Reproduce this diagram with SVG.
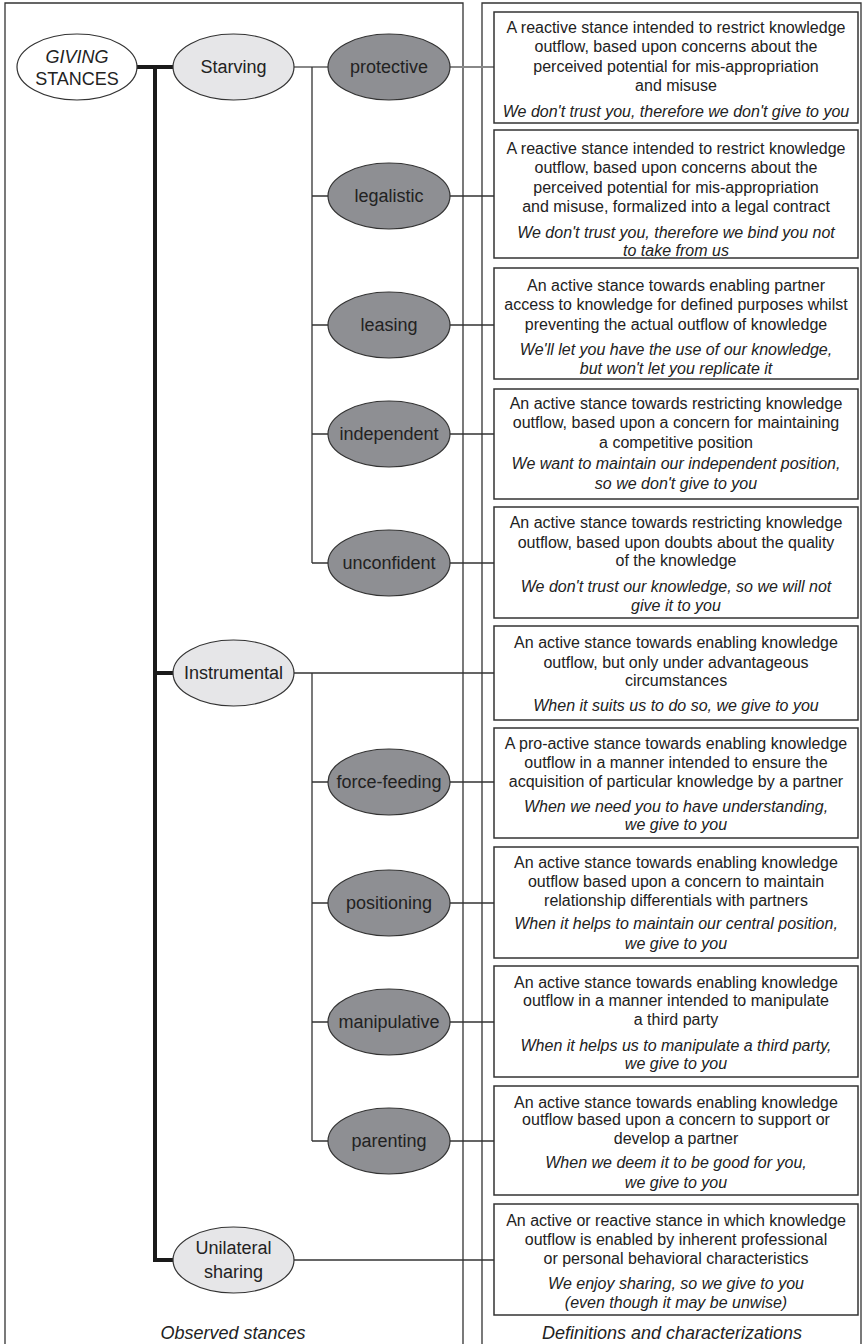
<svg xmlns="http://www.w3.org/2000/svg" width="864" height="1344" viewBox="0 0 864 1344">
<style>
.panel{fill:none;stroke:#333;stroke-width:1.3}
.box{fill:#fff;stroke:#333;stroke-width:1.5}
.root{fill:#fff;stroke:#333;stroke-width:1.2}
.mid{fill:#e6e6e8;stroke:#333;stroke-width:1.2}
.leaf{fill:#8e8f93;stroke:#333;stroke-width:1.2}
.lbl{font-family:"Liberation Sans",Arial,sans-serif;font-size:18px;fill:#222;text-anchor:middle}
.t{font-family:"Liberation Sans",Arial,sans-serif;font-size:16px;fill:#222;text-anchor:middle}
.i{font-style:italic}
.thick{stroke:#1a1a1a;stroke-width:4;fill:none}
.thin{stroke:#333;stroke-width:1.3;fill:none}
.grey{stroke:#888;stroke-width:2;fill:none}
.cap{font-family:"Liberation Sans",Arial,sans-serif;font-size:18px;font-style:italic;fill:#222;text-anchor:middle}
</style>
<rect width="864" height="1344" fill="#fff"/>
<g id="panels">
<path class="panel" d="M5,1350 V3 H463 V1350"/>
<path class="panel" d="M482,1350 V3 H861 V1350"/>
<text class="cap" x="233" y="1339">Observed stances</text>
<text class="cap" x="672" y="1339">Definitions and characterizations</text>
</g>
<g id="connectors">
<path class="thick" d="M137,67 H173 M155,67 V1260 H173 M155,673 H173"/>
<path class="grey" d="M294,67 H328 M450,67 H494"/>
<path class="thin" d="M312,67 V563 M312,196 H328 M312,325 H328 M312,434 H328 M312,563 H328"/>
<path class="thin" d="M450,196 H494 M450,325 H494 M450,434 H494 M450,563 H494"/>
<path class="thin" d="M294,673 H494 M312,673 V1141 M312,782 H328 M312,903 H328 M312,1022 H328 M312,1141 H328"/>
<path class="thin" d="M450,782 H494 M450,903 H494 M450,1022 H494 M450,1141 H494"/>
<path class="thin" d="M294,1260 H494"/>
</g>
<g id="giving"><ellipse class="root" cx="77" cy="67" rx="60" ry="33"/><text class="lbl i" x="77" y="63">GIVING</text><text class="lbl" x="77" y="85">STANCES</text></g>
<g id="starving"><ellipse class="mid" cx="233.5" cy="67" rx="60.5" ry="33"/><text class="lbl" x="233.5" y="73">Starving</text></g>
<g id="instrumental"><ellipse class="mid" cx="233.5" cy="673" rx="60.5" ry="33"/><text class="lbl" x="233.5" y="679">Instrumental</text></g>
<g id="unilateral"><ellipse class="mid" cx="233.5" cy="1260" rx="60.5" ry="33"/><text class="lbl" x="233.5" y="1254">Unilateral</text><text class="lbl" x="233.5" y="1278">sharing</text></g>
<g id="protective"><ellipse class="leaf" cx="389" cy="67" rx="61" ry="33"/><text class="lbl" x="389" y="73">protective</text></g>
<g id="legalistic"><ellipse class="leaf" cx="389" cy="196" rx="61" ry="33"/><text class="lbl" x="389" y="202">legalistic</text></g>
<g id="leasing"><ellipse class="leaf" cx="389" cy="325" rx="61" ry="33"/><text class="lbl" x="389" y="331">leasing</text></g>
<g id="independent"><ellipse class="leaf" cx="389" cy="434" rx="61" ry="33"/><text class="lbl" x="389" y="440">independent</text></g>
<g id="unconfident"><ellipse class="leaf" cx="389" cy="563" rx="61" ry="33"/><text class="lbl" x="389" y="569">unconfident</text></g>
<g id="force-feeding"><ellipse class="leaf" cx="389" cy="782" rx="61" ry="33"/><text class="lbl" x="389" y="788">force-feeding</text></g>
<g id="positioning"><ellipse class="leaf" cx="389" cy="903" rx="61" ry="33"/><text class="lbl" x="389" y="909">positioning</text></g>
<g id="manipulative"><ellipse class="leaf" cx="389" cy="1022" rx="61" ry="33"/><text class="lbl" x="389" y="1028">manipulative</text></g>
<g id="parenting"><ellipse class="leaf" cx="389" cy="1141" rx="61" ry="33"/><text class="lbl" x="389" y="1147">parenting</text></g>
<g id="def-protective"><rect class="box" x="494" y="12" width="364" height="111"/>
<text class="t" x="676" y="32.5">A reactive stance intended to restrict knowledge</text>
<text class="t" x="676" y="52">outflow, based upon concerns about the</text>
<text class="t" x="676" y="71.5">perceived potential for mis-appropriation</text>
<text class="t" x="676" y="91">and misuse</text>
<text class="t i" x="676" y="116.5">We don't trust you, therefore we don't give to you</text></g>
<g id="def-legalistic"><rect class="box" x="494" y="130" width="364" height="128"/>
<text class="t" x="676" y="153.5">A reactive stance intended to restrict knowledge</text>
<text class="t" x="676" y="173">outflow, based upon concerns about the</text>
<text class="t" x="676" y="192.5">perceived potential for mis-appropriation</text>
<text class="t" x="676" y="212">and misuse, formalized into a legal contract</text>
<text class="t i" x="676" y="237.5">We don't trust you, therefore we bind you not</text>
<text class="t i" x="676" y="255.5">to take from us</text></g>
<g id="def-leasing"><rect class="box" x="494" y="268" width="364" height="111"/>
<text class="t" x="676" y="290.5">An active stance towards enabling partner</text>
<text class="t" x="676" y="310">access to knowledge for defined purposes whilst</text>
<text class="t" x="676" y="329.5">preventing the actual outflow of knowledge</text>
<text class="t i" x="676" y="354.5">We'll let you have the use of our knowledge,</text>
<text class="t i" x="676" y="373.5">but won't let you replicate it</text></g>
<g id="def-independent"><rect class="box" x="494" y="389" width="364" height="110"/>
<text class="t" x="676" y="408.5">An active stance towards restricting knowledge</text>
<text class="t" x="676" y="428">outflow, based upon a concern for maintaining</text>
<text class="t" x="676" y="447.5">a competitive position</text>
<text class="t i" x="676" y="468.5">We want to maintain our independent position,</text>
<text class="t i" x="676" y="488.5">so we don't give to you</text></g>
<g id="def-unconfident"><rect class="box" x="494" y="507" width="364" height="111"/>
<text class="t" x="676" y="527.5">An active stance towards restricting knowledge</text>
<text class="t" x="676" y="547.5">outflow, based upon doubts about the quality</text>
<text class="t" x="676" y="565.5">of the knowledge</text>
<text class="t i" x="676" y="591.5">We don't trust our knowledge, so we will not</text>
<text class="t i" x="676" y="610.5">give it to you</text></g>
<g id="def-instrumental"><rect class="box" x="494" y="626" width="364" height="94"/>
<text class="t" x="676" y="647.5">An active stance towards enabling knowledge</text>
<text class="t" x="676" y="667.5">outflow, but only under advantageous</text>
<text class="t" x="676" y="685.5">circumstances</text>
<text class="t i" x="676" y="710.5">When it suits us to do so, we give to you</text></g>
<g id="def-force-feeding"><rect class="box" x="494" y="728" width="364" height="110"/>
<text class="t" x="676" y="748.5">A pro-active stance towards enabling knowledge</text>
<text class="t" x="676" y="767.5">outflow in a manner intended to ensure the</text>
<text class="t" x="676" y="786.5">acquisition of particular knowledge by a partner</text>
<text class="t i" x="676" y="811.5">When we need you to have understanding,</text>
<text class="t i" x="676" y="829.5">we give to you</text></g>
<g id="def-positioning"><rect class="box" x="494" y="847" width="364" height="111"/>
<text class="t" x="676" y="867.5">An active stance towards enabling knowledge</text>
<text class="t" x="676" y="886.5">outflow based upon a concern to maintain</text>
<text class="t" x="676" y="905.5">relationship differentials with partners</text>
<text class="t i" x="676" y="928.5">When it helps to maintain our central position,</text>
<text class="t i" x="676" y="948.5">we give to you</text></g>
<g id="def-manipulative"><rect class="box" x="494" y="966" width="364" height="111"/>
<text class="t" x="676" y="987.5">An active stance towards enabling knowledge</text>
<text class="t" x="676" y="1005.5">outflow in a manner intended to manipulate</text>
<text class="t" x="676" y="1024.5">a third party</text>
<text class="t i" x="676" y="1050.5">When it helps us to manipulate a third party,</text>
<text class="t i" x="676" y="1068.5">we give to you</text></g>
<g id="def-parenting"><rect class="box" x="494" y="1086" width="364" height="109"/>
<text class="t" x="676" y="1107.5">An active stance towards enabling knowledge</text>
<text class="t" x="676" y="1124.5">outflow based upon a concern to support or</text>
<text class="t" x="676" y="1143.5">develop a partner</text>
<text class="t i" x="676" y="1167.5">When we deem it to be good for you,</text>
<text class="t i" x="676" y="1187.5">we give to you</text></g>
<g id="def-unilateral"><rect class="box" x="494" y="1204" width="364" height="111"/>
<text class="t" x="676" y="1225.5">An active or reactive stance in which knowledge</text>
<text class="t" x="676" y="1244.5">outflow is enabled by inherent professional</text>
<text class="t" x="676" y="1263.5">or personal behavioral characteristics</text>
<text class="t i" x="676" y="1288.5">We enjoy sharing, so we give to you</text>
<text class="t i" x="676" y="1307.5">(even though it may be unwise)</text></g>
</svg>
